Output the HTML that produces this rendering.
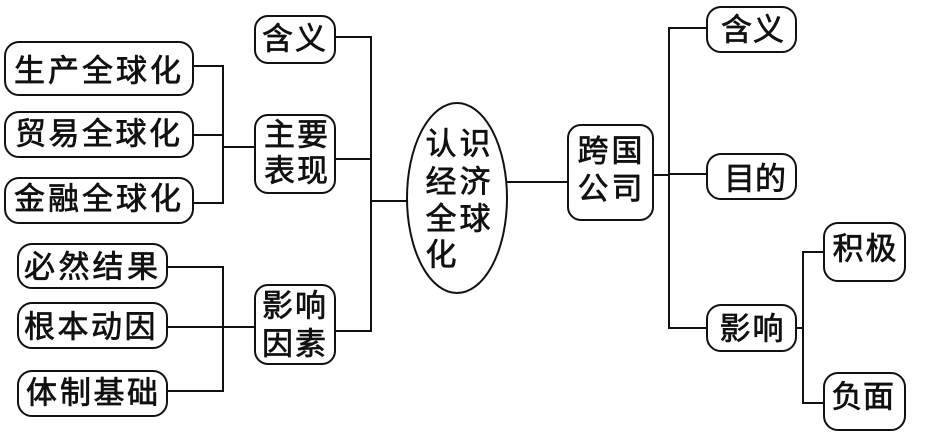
<!DOCTYPE html>
<html><head><meta charset="utf-8">
<style>
html,body{margin:0;padding:0;background:#fff;}
svg{display:block;}
text{font-family:"Liberation Sans","Noto Sans CJK SC",sans-serif;font-size:31px;fill:#111;stroke:#111;stroke-width:0.7px;text-anchor:middle;dominant-baseline:central;}
</style></head>
<body>
<svg width="944" height="447" viewBox="0 0 944 447" xmlns="http://www.w3.org/2000/svg">
<g fill="none" stroke="#111" stroke-width="2">
<polyline points="193,66 223,66 223,203 193,203"/>
<line x1="193" y1="135" x2="223" y2="135"/>
<line x1="223" y1="147" x2="255" y2="147"/>
<polyline points="167,267 223,267 223,391 167,391"/>
<line x1="167" y1="327" x2="255" y2="327"/>
<polyline points="335,37 371,37 371,331 335,331"/>
<line x1="335" y1="159" x2="371" y2="159"/>
<line x1="371" y1="201" x2="407" y2="201"/>
<line x1="507" y1="182" x2="568" y2="182"/>
<line x1="653" y1="175" x2="669" y2="175"/>
<polyline points="707,28 669,28 669,328 707,328"/>
<line x1="669" y1="174" x2="707" y2="174"/>
<line x1="796" y1="328" x2="803" y2="328"/>
<polyline points="824,252 803,252 803,403 824,403"/>
<rect x="255" y="16" width="80" height="47" rx="13"/>
<rect x="5" y="42" width="188" height="53" rx="14"/>
<rect x="5" y="112" width="188" height="45" rx="14"/>
<rect x="5" y="178" width="188" height="45" rx="14"/>
<rect x="255" y="115" width="80" height="78" rx="13"/>
<rect x="18" y="244" width="149" height="44" rx="14"/>
<rect x="18" y="303" width="149" height="45" rx="14"/>
<rect x="18" y="371" width="149" height="45" rx="14"/>
<rect x="255" y="285" width="80" height="79" rx="13"/>
<ellipse cx="457" cy="198" rx="50" ry="95"/>
<rect x="568" y="125" width="85" height="95" rx="13"/>
<rect x="707" y="7" width="89" height="45" rx="14"/>
<rect x="707" y="154" width="89" height="45" rx="14"/>
<rect x="707" y="305" width="89" height="46" rx="14"/>
<rect x="824" y="223" width="81" height="58" rx="14"/>
<rect x="824" y="373" width="81" height="57" rx="14"/>
</g>
<text x="277.5" y="39">含</text><text x="310.5" y="39">义</text>

<text x="29.5" y="71">生</text><text x="63.5" y="71">产</text><text x="97.5" y="71">全</text><text x="131.5" y="71">球</text><text x="165.5" y="71">化</text>
<text x="30.5" y="134">贸</text><text x="64" y="134">易</text><text x="97.5" y="134">全</text><text x="131" y="134">球</text><text x="164.5" y="134">化</text>
<text x="29.5" y="199">金</text><text x="63.5" y="199">融</text><text x="97.5" y="199">全</text><text x="131.5" y="199">球</text><text x="165.5" y="199">化</text>

<text x="279.5" y="135">主</text><text x="312.5" y="135">要</text>
<text x="279.5" y="171">表</text><text x="312.5" y="171">现</text>

<text x="39.5" y="267">必</text><text x="74" y="267">然</text><text x="108" y="267">结</text><text x="142.5" y="267">果</text>
<text x="39.5" y="327">根</text><text x="73" y="327">本</text><text x="106.5" y="327">动</text><text x="140" y="327">因</text>
<text x="41.5" y="393">体</text><text x="75.5" y="393">制</text><text x="109" y="393">基</text><text x="142.5" y="393">础</text>

<text x="277.5" y="306">影</text><text x="310.5" y="306">响</text>
<text x="277.5" y="344">因</text><text x="310.5" y="344">素</text>

<text x="441" y="144">认</text><text x="475" y="144">识</text>
<text x="441" y="182">经</text><text x="475" y="182">济</text>
<text x="441" y="219">全</text><text x="475" y="219">球</text>
<text x="441" y="255">化</text>

<text x="593" y="151">跨</text><text x="627" y="151">国</text>
<text x="593" y="189">公</text><text x="627" y="189">司</text>

<text x="736.5" y="30">含</text><text x="768.5" y="30">义</text>
<text x="739.5" y="179">目</text><text x="770.5" y="179">的</text>
<text x="735" y="329">影</text><text x="768" y="329">响</text>
<text x="848" y="249">积</text><text x="881" y="249">极</text>
<text x="847" y="397">负</text><text x="878.5" y="397">面</text>
</svg>
</body></html>
